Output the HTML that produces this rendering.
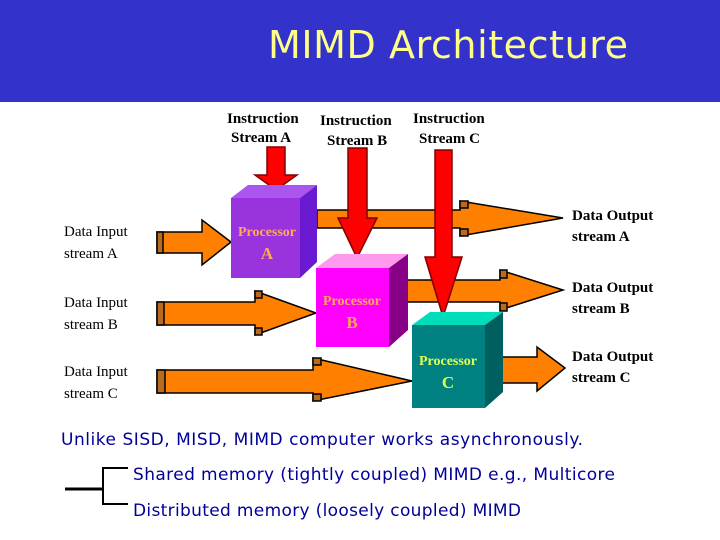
<!DOCTYPE html>
<html><head><meta charset="utf-8"><style>
html,body{margin:0;padding:0;background:#fff;}
svg{display:block}
</style></head><body>
<svg width="720" height="540" xmlns="http://www.w3.org/2000/svg">
<rect x="0" y="0" width="720" height="102" fill="#3333cc"/>
<text x="268" y="58" font-family="Verdana, 'DejaVu Sans', sans-serif" font-size="38" fill="#ffff88" textLength="360">MIMD Architecture</text>
<g font-family="'Liberation Serif', serif" font-weight="bold" font-size="15" fill="#000">
<text x="227" y="123">Instruction</text><text x="231" y="142">Stream  A</text>
<text x="320" y="125">Instruction</text><text x="327" y="145">Stream B</text>
<text x="413" y="123">Instruction</text><text x="419" y="143">Stream C</text>
<text x="572" y="220">Data Output</text><text x="572" y="241">stream A</text>
<text x="572" y="292">Data Output</text><text x="572" y="313">stream B</text>
<text x="572" y="361">Data Output</text><text x="572" y="382">stream C</text>
</g>
<g font-family="'Liberation Serif', serif" font-size="15" fill="#000">
<text x="64" y="236">Data Input</text><text x="64" y="258">stream A</text>
<text x="64" y="307">Data Input</text><text x="64" y="329">stream B</text>
<text x="64" y="376">Data Input</text><text x="64" y="398">stream C</text>
</g>
<g stroke="#000" stroke-width="1.5" stroke-linejoin="miter">
<polygon points="317,210 460,210 460,201 563,218 460,236 460,228 317,228" fill="#ff8000"/>
<rect x="460" y="201" width="8" height="7" fill="#b86b1e"/><rect x="460" y="229" width="8" height="7" fill="#b86b1e"/>
<polygon points="389,280 500,280 500,270 563,290 500,310 500,302 389,302" fill="#ff8000"/>
<rect x="500" y="270" width="7" height="8" fill="#b86b1e"/><rect x="500" y="303" width="7" height="8" fill="#b86b1e"/>
<polygon points="485,357 537,357 537,347 565,368 537,391 537,383 485,383" fill="#ff8000"/>
<polygon points="157,232 202,232 202,220 231,242 202,265 202,253 157,253" fill="#ff8000"/>
<rect x="157" y="232" width="6" height="21" fill="#b86b1e"/>
<polygon points="157,302 255,302 255,291 316,313 255,335 255,325 157,325" fill="#ff8000"/>
<rect x="157" y="302" width="7" height="23" fill="#b86b1e"/><rect x="255" y="291" width="7" height="7" fill="#b86b1e"/><rect x="255" y="328" width="7" height="7" fill="#b86b1e"/>
<polygon points="157,370 313,370 313,358 412,381 313,401 313,393 157,393" fill="#ff8000"/>
<rect x="157" y="370" width="8" height="23" fill="#b86b1e"/><rect x="313" y="358" width="8" height="7" fill="#b86b1e"/><rect x="313" y="394" width="8" height="7" fill="#b86b1e"/>
<polygon points="267,147 285,147 285,175 297,175 276,190 255,175 267,175" fill="#ff0000" stroke="#800000"/>
<polygon points="348,148 367,148 367,218 377,218 357,258 338,218 348,218" fill="#ff0000" stroke="#800000"/>
<polygon points="435,150 452,150 452,257 462,257 443,317 425,257 435,257" fill="#ff0000" stroke="#800000"/>
</g>
<g>
<polygon points="231,198 248,185 317,185 300,198" fill="#aa55ee"/>
<polygon points="300,198 317,185 317,262 300,278" fill="#6a1ad0"/>
<rect x="231" y="198" width="69" height="80" fill="#9933dd"/>
<polygon points="316,268 335,254 408,254 389,268" fill="#ff99ee"/>
<polygon points="389,268 408,254 408,330 389,347" fill="#880088"/>
<rect x="316" y="268" width="73" height="79" fill="#ff00ff"/>
<polygon points="412,325 430,312 503,312 485,325" fill="#00ddbb"/>
<polygon points="485,325 503,312 503,392 485,408" fill="#005f5f"/>
<rect x="412" y="325" width="73" height="83" fill="#008080"/>
</g>
<g font-family="'Liberation Serif', serif" font-weight="bold" text-anchor="middle">
<text x="267" y="236" font-size="14" fill="#ffaa55">Processor</text><text x="267" y="259" font-size="17" fill="#ffaa55">A</text>
<text x="352" y="305" font-size="14" fill="#ffaa55">Processor</text><text x="352" y="328" font-size="17" fill="#ffaa55">B</text>
<text x="448" y="365" font-size="14" fill="#ddff55">Processor</text><text x="448" y="388" font-size="17" fill="#ddff55">C</text>
</g>
<g font-family="Verdana, 'DejaVu Sans', sans-serif" font-size="17" fill="#000099">
<text x="61" y="445" textLength="522">Unlike SISD, MISD, MIMD computer works asynchronously.</text>
<text x="133" y="480" textLength="482">Shared memory (tightly coupled) MIMD e.g., Multicore</text>
<text x="133" y="516" textLength="388">Distributed memory (loosely coupled) MIMD</text>
</g>
<g stroke="#000" fill="none">
<line x1="65" y1="489" x2="104" y2="489" stroke-width="3"/>
<polyline points="128,468 103,468 103,504 128,504" stroke-width="2"/>
</g>
</svg>
</body></html>
